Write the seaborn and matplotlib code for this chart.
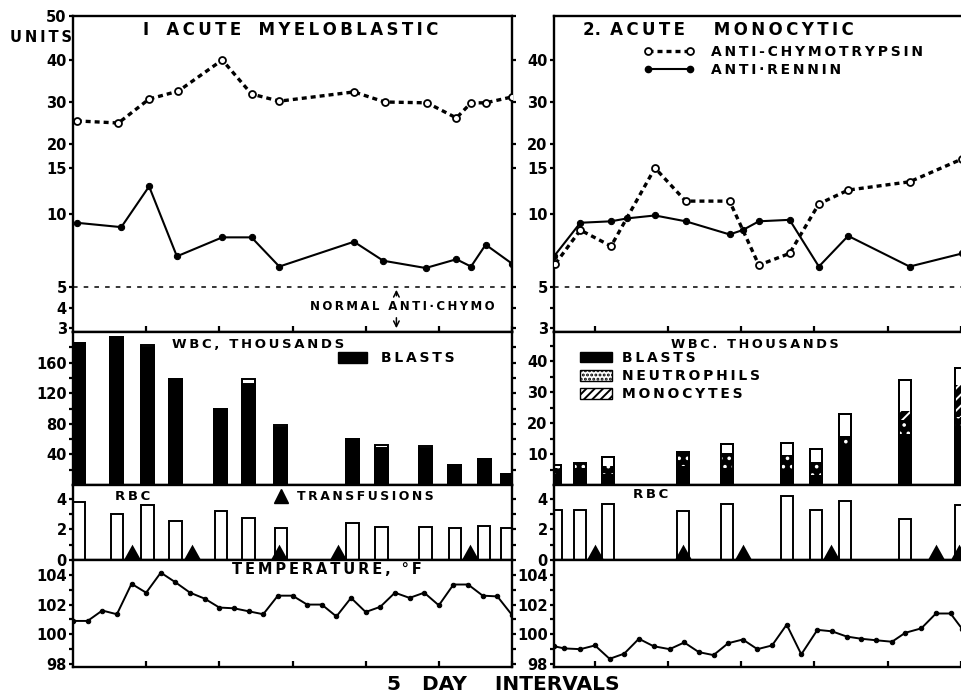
import numpy as np
import pandas as pd
import seaborn as sns
import matplotlib.pyplot as plt
from matplotlib.lines import Line2D
from matplotlib.patches import Patch

# ---------------- case 1, acute myeloblastic (days from chart start) ----------------
c1_chymo_day = [0.25, 3.1, 5.2, 7.2, 10.2, 12.2, 14.1, 19.2, 21.3, 24.2, 26.2, 27.2, 28.2, 30.0]
c1_chymo = [25.5, 25.0, 30.7, 32.6, 40.0, 31.9, 30.2, 32.4, 30.0, 29.8, 26.2, 29.8, 29.8, 31.2]
c1_rennin_day = [0.25, 3.3, 5.2, 7.1, 10.2, 12.2, 14.1, 19.2, 21.2, 24.1, 26.2, 27.2, 28.2, 30.0]
c1_rennin = [9.4, 9.1, 13.0, 7.1, 8.4, 8.4, 6.4, 8.1, 6.8, 6.3, 6.9, 6.4, 7.9, 6.6]

c1_count_day = [0.4, 3.0, 5.1, 7.0, 10.1, 12.0, 14.2, 19.1, 21.1, 24.1, 26.1, 28.1, 29.7]
c1_wbc = [186, 194, 183, 139, 99, 138, 78, 60, 52, 51, 26, 33.5, 15]
c1_blasts = [185, 194, 181, 139, 99, 132, 76, 60, 48, 48, 26, 33.5, 15]
c1_rbc = [3.82, 3.0, 3.6, 2.58, 3.23, 2.77, 2.08, 2.41, 2.18, 2.18, 2.08, 2.23, 2.12]
c1_transfusion_day = [4.0, 8.1, 14.1, 18.1, 27.1]

c1_temp_day = list(range(31))
c1_temp = [100.9, 100.9, 101.6, 101.35, 103.4, 102.8, 104.15, 103.5, 102.8, 102.4,
           101.8, 101.75, 101.55, 101.35, 102.6, 102.6, 102.0, 102.0, 101.2, 102.45,
           101.5, 101.85, 102.8, 102.45, 102.8, 101.95, 103.35, 103.35, 102.6, 102.55, 101.3]

# ---------------- case 2, acute monocytic ----------------
c2_chymo_day = [2.3, 4.0, 6.1, 9.1, 11.2, 14.2, 16.2, 18.3, 20.3, 22.3, 26.5, 30.1]
c2_chymo = [6.6, 8.9, 7.8, 15.0, 11.4, 11.4, 6.5, 7.3, 11.1, 12.6, 13.5, 16.9]
c2_rennin_day = [2.2, 4.0, 6.1, 7.2, 9.1, 11.2, 14.2, 15.1, 16.2, 18.3, 20.3, 22.3, 26.5, 30.1]
c2_rennin = [7.1, 9.4, 9.5, 9.7, 9.9, 9.5, 8.6, 8.9, 9.5, 9.6, 6.4, 8.5, 6.4, 7.3]

c2_count_day = [2.3, 4.0, 5.9, 11.0, 14.0, 18.1, 20.1, 22.1, 26.2, 30.0]
c2_wbc = [6.5, 7.2, 9.0, 10.7, 13.3, 13.4, 11.6, 23.0, 33.9, 37.8]
c2_blasts = [3.5, 5.5, 3.5, 6.0, 5.5, 4.2, 3.2, 12.0, 16.5, 18.5]
c2_neutrophils = [2.0, 1.7, 2.6, 4.7, 4.7, 5.5, 4.3, 3.8, 4.5, 3.5]
c2_monocytes = [0, 0, 0, 0, 0, 0, 0, 0, 2.9, 10.3]
c2_rbc = [3.27, 3.27, 3.66, 3.23, 3.66, 4.15, 3.27, 3.87, 2.69, 3.61]
c2_transfusion_day = [5.0, 11.0, 15.1, 21.1, 28.3, 29.9]

c2_temp_day = [2.2, 2.9, 4.0, 5.0, 6.0, 7.0, 8.0, 9.0, 10.1, 11.1, 12.1, 13.1, 14.1, 15.1,
               16.1, 17.1, 18.1, 19.1, 20.2, 21.2, 22.2, 23.2, 24.2, 25.3, 26.2, 27.3,
               28.3, 29.3, 30.1]
c2_temp = [99.2, 99.05, 99.0, 99.25, 98.35, 98.7, 99.7, 99.2, 99.0, 99.45, 98.8, 98.6,
           99.4, 99.65, 99.0, 99.25, 100.65, 98.65, 100.3, 100.2, 99.85, 99.7, 99.6,
           99.5, 100.1, 100.4, 101.4, 101.4, 100.35]

NORMAL_ANTICHYMO = 5

# hand drawn "units" scale of the original chart
UNIT_KNOTS = [0, 3, 4, 5, 10, 15, 20, 30, 40, 50, 100]
UNIT_POS = [-56, 4, 24, 45, 118, 164, 188, 230, 272, 316, 536]

sns.set_style("white")
plt.rcParams["font.family"] = ["DejaVu Sans"]
plt.rcParams["font.weight"] = "bold"
plt.rcParams["text.color"] = "black"
plt.rcParams["hatch.linewidth"] = 1.4

W, H = 962, 694
fig = plt.figure(figsize=(W / 100, H / 100), dpi=100)


def spaced(s):
    # wide hand lettering: a thin space between the letters
    return "\u2009".join(s)


def make_ax(x0, y0, y1, w=439):
    return fig.add_axes([x0 / W, 1 - y1 / H, w / W, (y1 - y0) / H])


def fwd(v):
    return np.interp(v, UNIT_KNOTS, UNIT_POS)


def inv(p):
    return np.interp(p, UNIT_POS, UNIT_KNOTS)


def style(ax, xlim, xticks, ticks_in=False):
    ax.set_xlim(xlim)
    ax.set_xlabel("")
    ax.set_ylabel("")
    for s in ax.spines.values():
        s.set_linewidth(1.7)
        s.set_color("black")
    ax.tick_params(axis="y", which="both", left=True, direction="out", length=3,
                   width=1.6, pad=1.5, labelsize=10.5, colors="black")
    ax.set_xticks(xticks)
    ax.tick_params(axis="x", bottom=ticks_in, labelbottom=False, direction="in",
                   length=4, width=1.6, colors="black")


def bars(ax, x, h, wdays, **kw):
    x = np.asarray(x, float)
    rel = wdays / np.diff(np.sort(x)).min()
    sns.barplot(x=x, y=h, ax=ax, native_scale=True, width=rel, orient="x",
                errorbar=None, saturation=1, **kw)


def tri(ax, x):
    sns.scatterplot(x=x, y=[0] * len(x), ax=ax, marker=[(-1, 0), (1, 0), (0, 1.8), (-1, 0)],
                    s=520, color="black", edgecolor="black", linewidth=0, zorder=5)


def units_panel(ax, cd, cv, rd, rv):
    ax.set_yscale("function", functions=(fwd, inv))
    sns.lineplot(x=cd, y=cv, ax=ax, color="black", lw=2.4, ls=(0, (1.5, 1.2)),
                 marker="o", ms=5, mfc="white", mec="black", mew=1.3, zorder=3)
    sns.lineplot(x=rd, y=rv, ax=ax, color="black", lw=1.5,
                 marker="o", ms=4.5, mfc="black", mec="black", zorder=3)
    ax.axhline(NORMAL_ANTICHYMO, color="black", lw=1.1, ls=(0, (3, 4)))
    ax.set_ylim(2.8, 50)


def temp_panel(ax, d, t):
    sns.lineplot(x=d, y=t, ax=ax, color="black", lw=1.4, marker="o", ms=3.2,
                 mfc="black", mec="black")
    ax.set_ylim(97.8, 105.0)
    ax.set_yticks([98, 100, 102, 104], ["98", "100", "102", "104"])
    ax.set_yticks([99, 101, 103], minor=True)


LEG = dict(bbox_transform=fig.transFigure, frameon=False, borderpad=0, borderaxespad=0)
BOLD10 = {"size": 10, "weight": "bold"}

L, R = 73, 554
XL, XR = (0, 30), (2.2, 32.2)
XT = [5, 10, 15, 20, 25, 30]

# ---------------- left column ----------------
ax1 = make_ax(L, 16, 332)
units_panel(ax1, c1_chymo_day, c1_chymo, c1_rennin_day, c1_rennin)
style(ax1, XL, XT, ticks_in=True)
ax1.set_yticks([3, 4, 5, 10, 15, 20, 30, 40, 50],
               ["3", "4", "5", "10", "15", "20", "30", "40", "50"])
ax1.yaxis.set_minor_locator(plt.NullLocator())
ax1.tick_params(axis="y", right=True)
ax1.annotate("", xy=(22.1, NORMAL_ANTICHYMO), xytext=(22.1, 4.45),
             arrowprops=dict(arrowstyle="->", lw=1.1, color="black"))
ax1.annotate("", xy=(22.1, 2.85), xytext=(22.1, 3.65),
             arrowprops=dict(arrowstyle="->", lw=1.1, color="black"))
ax1.text(22.5, 4.05, spaced("NORMAL ANTI·CHYMO"), ha="center", va="center", fontsize=8.5)

ax2 = make_ax(L, 332, 485)
bars(ax2, c1_count_day, c1_wbc, 0.88, color="white", edgecolor="black", linewidth=1.4)
bars(ax2, c1_count_day, c1_blasts, 0.88, color="black", edgecolor="black", linewidth=1.4)
style(ax2, XL, XT)
ax2.set_ylim(0, 200)
ax2.set_yticks([40, 80, 120, 160], ["40", "80", "120", "160"])
ax2.set_yticks([20, 60, 100, 140, 180], minor=True)
ax2.tick_params(axis="y", which="both", right=True)
ax2.legend(handles=[Patch(facecolor="black", edgecolor="black")], labels=[spaced("BLASTS")],
           loc="center left", bbox_to_anchor=(338 / W, 1 - 358 / H), prop=BOLD10,
           handlelength=2.1, handleheight=0.85, handletextpad=1.0, **LEG)

ax3 = make_ax(L, 485, 560)
bars(ax3, c1_count_day, c1_rbc, 0.86, color="white", edgecolor="black", linewidth=1.4)
tri(ax3, c1_transfusion_day)
style(ax3, XL, XT)
ax3.set_ylim(0, 4.9)
ax3.set_yticks([0, 2, 4], ["0", "2", "4"])
ax3.set_yticks([1, 3], minor=True)
ax3.tick_params(axis="y", which="both", right=True)
ax3.legend(handles=[Line2D([], [], ls="", marker="^", ms=10, color="black")],
           labels=[spaced("TRANSFUSIONS")], loc="center left",
           bbox_to_anchor=(273 / W, 1 - 497 / H), prop={"size": 9, "weight": "bold"},
           handlelength=1.3, handletextpad=0.6, **LEG)

ax4 = make_ax(L, 560, 667)
temp_panel(ax4, c1_temp_day, c1_temp)
style(ax4, XL, XT, ticks_in=True)
ax4.tick_params(axis="y", which="both", right=True)

# ---------------- right column ----------------
bx1 = make_ax(R, 16, 332)
units_panel(bx1, c2_chymo_day, c2_chymo, c2_rennin_day, c2_rennin)
style(bx1, XR, XT, ticks_in=True)
bx1.set_yticks([3, 4, 5, 10, 15, 20, 30, 40],
               ["3", "", "5", "10", "15", "20", "30", "40"])
bx1.yaxis.set_minor_locator(plt.NullLocator())
chymo_handle = Line2D([], [], color="black", lw=2.4, ls=(0, (1.5, 1.2)), marker="o",
                      ms=5, mfc="white", mec="black", mew=1.3)
rennin_handle = Line2D([], [], color="black", lw=1.5, marker="o", ms=4.5)
bx1.legend(handles=[chymo_handle, rennin_handle],
           labels=[spaced("ANTI-CHYMOTRYPSIN"), spaced("ANTI·RENNIN")],
           loc="upper left", bbox_to_anchor=(644 / W, 1 - 45 / H), prop=BOLD10,
           handlelength=3.6, handletextpad=1.2, numpoints=2, labelspacing=0.3, **LEG)

bx2 = make_ax(R, 332, 485)
stack_mono = np.add(np.add(c2_blasts, c2_neutrophils), c2_monocytes)
stack_neut = np.add(c2_blasts, c2_neutrophils)
bars(bx2, c2_count_day, c2_wbc, 0.82, color="white", edgecolor="black", linewidth=1.4)
bars(bx2, c2_count_day, stack_mono, 0.82, color="black", edgecolor="white",
     linewidth=0, hatch="///")
bars(bx2, c2_count_day, stack_neut, 0.82, color="black", edgecolor="white",
     linewidth=0, hatch="..")
bars(bx2, c2_count_day, c2_blasts, 0.82, color="black", edgecolor="black", linewidth=0)
bars(bx2, c2_count_day, c2_wbc, 0.82, color="black", fill=False, linewidth=1.4)
style(bx2, XR, XT)
bx2.set_ylim(0, 49.4)
bx2.set_yticks([10, 20, 30, 40], ["10", "20", "30", "40"])
bx2.set_yticks([5, 15, 25, 35, 45], minor=True)
bx2.legend(handles=[Patch(facecolor="black", edgecolor="black"),
                    Patch(facecolor="white", edgecolor="black", hatch="...."),
                    Patch(facecolor="white", edgecolor="black", hatch="////")],
           labels=[spaced("BLASTS"), spaced("NEUTROPHILS"), spaced("MONOCYTES")],
           loc="upper left", bbox_to_anchor=(580 / W, 1 - 351 / H), prop=BOLD10,
           handlelength=2.3, handleheight=0.8, handletextpad=0.75, labelspacing=0.3, **LEG)

bx3 = make_ax(R, 485, 560)
bars(bx3, c2_count_day, c2_rbc, 0.84, color="white", edgecolor="black", linewidth=1.4)
tri(bx3, c2_transfusion_day)
style(bx3, XR, XT)
bx3.set_ylim(0, 4.9)
bx3.set_yticks([0, 2, 4], ["0", "2", "4"])
bx3.set_yticks([1, 3], minor=True)

bx4 = make_ax(R, 560, 667)
temp_panel(bx4, c2_temp_day, c2_temp)
style(bx4, XR, XT, ticks_in=True)

# ---------------- lettering ----------------
def ftext(x, y, s, **kw):
    fig.text(x / W, 1 - y / H, s, va="center", **kw)


ftext(291, 30, "I   " + spaced("ACUTE") + "   " + spaced("MYELOBLASTIC"), ha="center", fontsize=12)
ftext(583, 30, "2." + spaced(" ACUTE") + "     " + spaced("MONOCYTIC"), ha="left", fontsize=12)
ftext(72, 38, spaced("UNITS"), ha="right", fontsize=10.5)
ftext(258, 344, spaced("WBC, THOUSANDS"), ha="center", fontsize=9.5)
ftext(755, 344, spaced("WBC. THOUSANDS"), ha="center", fontsize=9.3)
ftext(133, 497, spaced("RBC"), ha="center", fontsize=9.5)
ftext(651, 495, spaced("RBC"), ha="center", fontsize=9.5)
ftext(327, 569, spaced("TEMPERATURE, °F"), ha="center", fontsize=10.5)
ftext(503, 684, "5   DAY    INTERVALS", ha="center", fontsize=14.5)

fig.savefig("out.png", dpi=100)
